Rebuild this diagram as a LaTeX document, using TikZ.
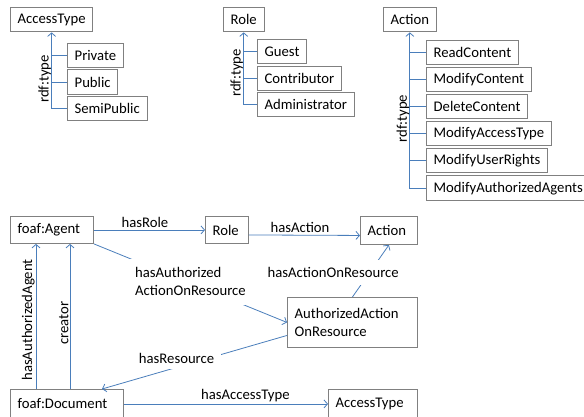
\documentclass[tikz,border=0pt]{standalone}
\usepackage{fontspec}
\setmainfont{Carlito}
\usetikzlibrary{arrows.meta}
\definecolor{linkblue}{RGB}{74,126,187}
\definecolor{boxgray}{RGB}{128,128,128}
\begin{document}
\begin{tikzpicture}[x=1pt,y=-1pt,
  font=\fontsize{14.7}{17.6}\selectfont,
  box/.style={draw=boxgray, line width=0.9pt, fill=white, anchor=north west,
    inner xsep=7.2pt, inner ysep=0pt, minimum height=24.5pt},
  lbox/.style={box, text width=#1, align=left},
  plain/.style={draw=linkblue, line width=0.8pt},
  link/.style={plain, -{Straight Barb[length=3.5pt,width=8pt]}},
  lab/.style={above, inner sep=2pt},
  vlab/.style={sloped, above, inner sep=1pt},
  lbl/.style={fill=white}
]
\useasboundingbox (0,0) rectangle (584,417);
\clip (0,0) rectangle (584,417);

% ---------- top: AccessType ----------
\node[box] (at1) at (10,7) {AccessType};
\node[box] (private) at (67,43) {Private};
\node[box] (public) at (67,69.5) {Public};
\node[box] (semipublic) at (67,96) {SemiPublic};
\draw[plain] (private.west) -- (private.west -| at1.south);
\draw[plain] (public.west) -- (public.west -| at1.south);
\draw[link] (semipublic.west) -| (at1.south);
\path (semipublic.west -| at1.south) -- (at1.south) node[vlab, pos=0.39, inner sep=0.5pt] {rdf:type};

% ---------- top: Role ----------
\node[box] (role1) at (223,7) {Role};
\node[box] (guest) at (257,39) {Guest};
\node[box] (contributor) at (257,66) {Contributor};
\node[box] (administrator) at (257,92) {Administrator};
\draw[plain] (guest.west) -- (guest.west -| role1.south);
\draw[plain] (contributor.west) -- (contributor.west -| role1.south);
\draw[link] (administrator.west) -| (role1.south);
\path (administrator.west -| role1.south) -- (role1.south) node[vlab, pos=0.44, inner sep=0.5pt] {rdf:type};

% ---------- top: Action ----------
\node[box] (action1) at (383,7) {Action};
\node[box] (read) at (426,40) {ReadContent};
\node[box] (modcontent) at (426,67) {ModifyContent};
\node[box] (delete) at (426,94) {DeleteContent};
\node[box] (modaccess) at (426,121) {ModifyAccessType};
\node[box] (moduser) at (426,148) {ModifyUserRights};
\node[box] (modagents) at (426,175.5) {ModifyAuthorizedAgents};
\draw[plain] (read.west) -- (read.west -| action1.south);
\draw[plain] (modcontent.west) -- (modcontent.west -| action1.south);
\draw[plain] (delete.west) -- (delete.west -| action1.south);
\draw[plain] (modaccess.west) -- (modaccess.west -| action1.south);
\draw[plain] (moduser.west) -- (moduser.west -| action1.south);
\draw[link] (modagents.west) -| (action1.south);
\path (modagents.west -| action1.south) -- (action1.south) node[vlab, pos=0.446, inner sep=0.5pt] {rdf:type};

% ---------- bottom ----------
\node[lbox=68.6pt, minimum height=27pt] (agent) at (10,216) {foaf:Agent};
\node[lbox=28.6pt, minimum height=27pt] (role2) at (205,216) {Role};
\node[lbox=42.6pt, minimum height=28pt] (action2) at (360,216) {Action};
\node[lbox=115.6pt, minimum height=50pt] (authres) at (287,297) {AuthorizedAction\\OnResource};
\node[lbox=98.6pt, minimum height=29pt] (document) at (10,389) {foaf:Document};
\node[lbox=74.6pt, minimum height=29pt] (at2) at (328,389) {AccessType};

\draw[link] (agent.east) -- (role2.west) node[lab, pos=0.46] {hasRole};
\draw[link] ([yshift=-5pt]role2.east) -- ([yshift=-5pt]action2.west) node[lab, pos=0.46] {hasAction};
\draw[link] (agent.south east) -- (authres.west)
  node[lbl, pos=0.5, align=left, inner xsep=6pt, inner ysep=9pt, yshift=1.5pt] {hasAuthorized\\ActionOnResource};
\draw[link] (authres.north) -- (action2.south)
  node[lbl, pos=0.5, xshift=-37.5pt, yshift=-1.5pt, inner xsep=4pt, inner ysep=7pt] {hasActionOnResource};
\draw[link] ([yshift=-13pt]authres.west) -- ([xshift=92pt]document.north west)
  node[lbl, pos=0.597, yshift=8.8pt, inner xsep=7pt, inner ysep=5pt] {hasResource};
\draw[link] ([xshift=26pt]document.north west) -- ([xshift=26pt]agent.south west)
  node[vlab, pos=0.476] {hasAuthorizedAgent};
\draw[link] ([xshift=60pt]document.north west) -- ([xshift=60pt]agent.south west)
  node[vlab, pos=0.455] {creator};
\draw[link] (document.east) -- (at2.west) node[lab, pos=0.595] {hasAccessType};
\end{tikzpicture}
\end{document}
